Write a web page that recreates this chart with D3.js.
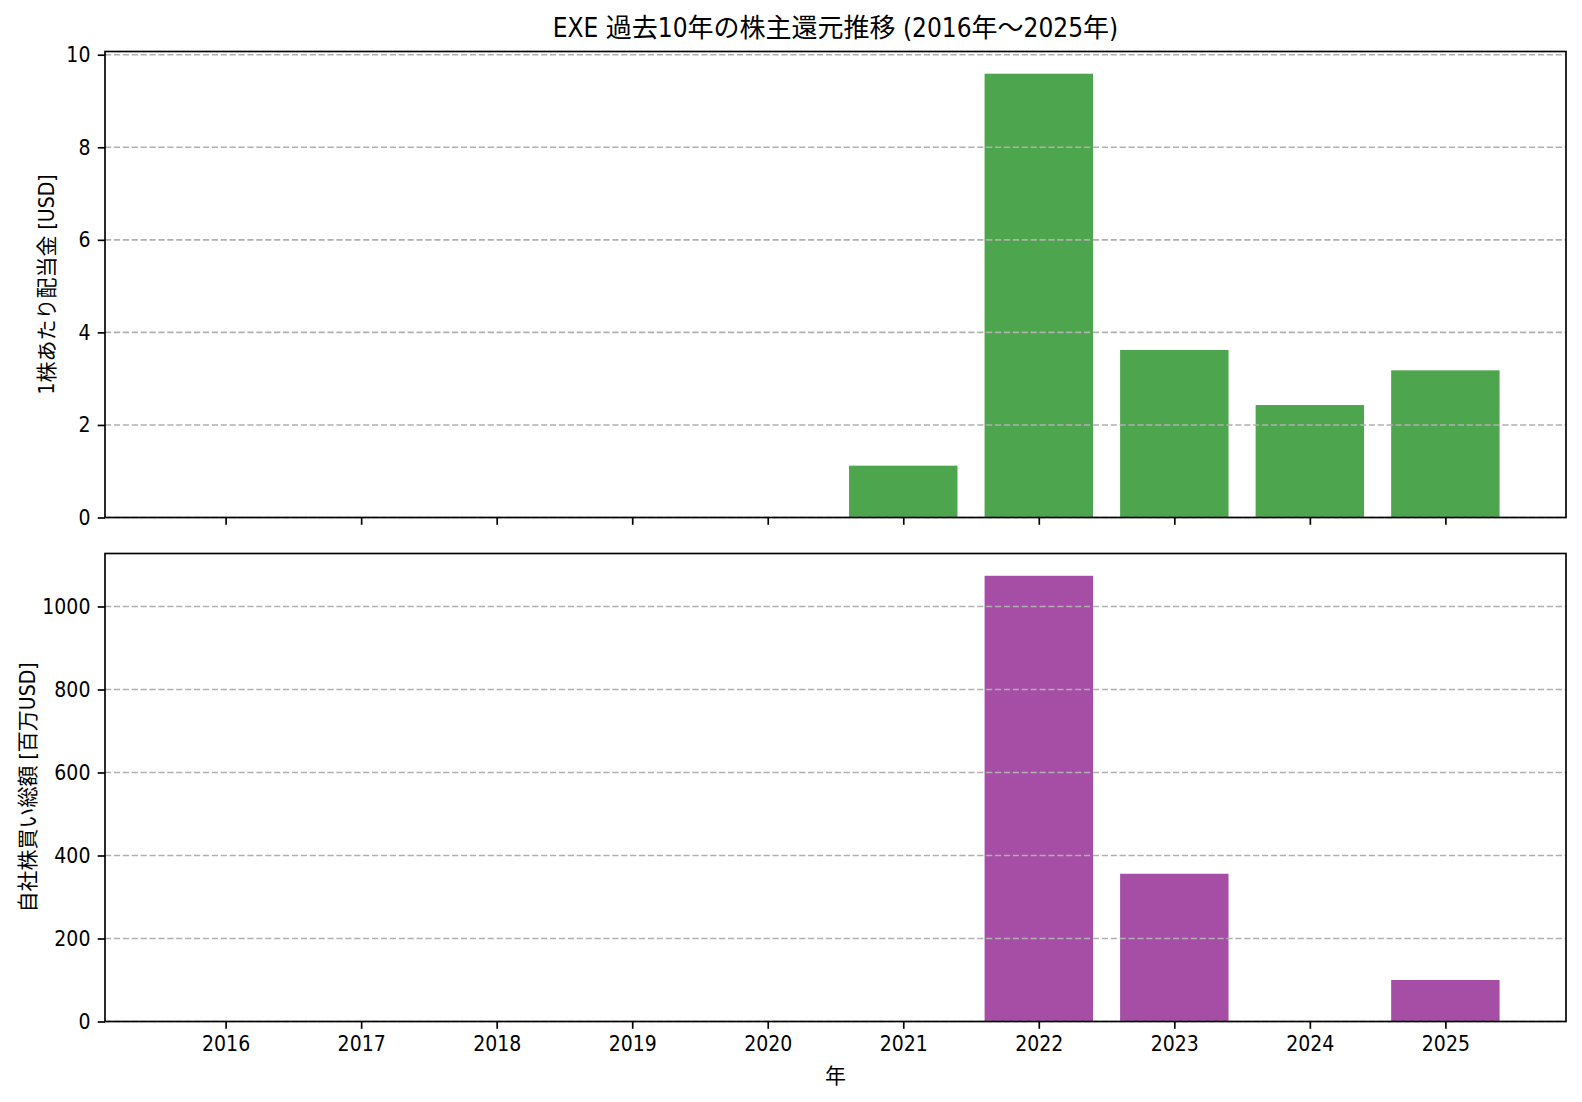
<!DOCTYPE html>
<html>
<head>
<meta charset="utf-8">
<script src="https://cdn.jsdelivr.net/npm/d3@7"></script>
<style>
  body { margin: 0; background: #fff; }
  svg text { font-family: "Liberation Sans Narrow", "DejaVu Sans Condensed", "Noto Sans CJK JP", sans-serif; fill: #000; }
</style>
</head>
<body>
<div id="chart"></div>
<script>
// データ
const years = [2016, 2017, 2018, 2019, 2020, 2021, 2022, 2023, 2024, 2025];
const dividendPerShare = [0, 0, 0, 0, 0, 1.12, 9.59, 3.62, 2.43, 3.18];
const buybackTotal = [0, 0, 0, 0, 0, 0, 1074, 356, 0, 100];
const dividendTicks = [0, 2, 4, 6, 8, 10];
const buybackTicks = [0, 200, 400, 600, 800, 1000];

const W = 1582, H = 1102;
const left = 105, right = 1566;
const panels = [
  { top: 51.5, bottom: 517.5, values: dividendPerShare, ticks: dividendTicks,
    color: '#4da64d', label: '1株あたり配当金 [USD]', labelX: 47, showX: false },
  { top: 553.5, bottom: 1021.5, values: buybackTotal, ticks: buybackTicks,
    color: '#a64da6', label: '自社株買い総額 [百万USD]', labelX: 28, showX: true }
];

const svg = d3.select('#chart').append('svg')
  .attr('width', W).attr('height', H);

// matplotlib 風の x 範囲 (棒幅0.8 + 5%マージン)
const n = years.length, bw = 0.8;
const span = (n - 1) + bw;
const x = d3.scaleLinear()
  .domain([-bw / 2 - 0.05 * span, n - 1 + bw / 2 + 0.05 * span])
  .range([left, right]);

panels.forEach(p => {
  const y = d3.scaleLinear()
    .domain([0, d3.max(p.values) * 1.05])
    .range([p.bottom, p.top]);

  const g = svg.append('g');

  // 棒
  g.selectAll('rect.bar')
    .data(p.values)
    .join('rect')
    .attr('class', 'bar')
    .attr('x', (d, i) => x(i - bw / 2))
    .attr('width', (d, i) => x(i + bw / 2) - x(i - bw / 2))
    .attr('y', d => y(d))
    .attr('height', d => y(0) - y(d))
    .attr('fill', p.color);

  // グリッド (棒の上に描画)
  g.selectAll('line.grid')
    .data(p.ticks)
    .join('line')
    .attr('class', 'grid')
    .attr('x1', left).attr('x2', right)
    .attr('y1', d => y(d)).attr('y2', d => y(d))
    .attr('stroke', '#b0b0b0')
    .attr('stroke-width', 1.6)
    .attr('stroke-dasharray', '6.2 2.7');

  // y 軸
  const ya = g.append('g')
    .attr('transform', `translate(${left},0)`)
    .call(d3.axisLeft(y).tickValues(p.ticks).tickFormat(d3.format('d'))
      .tickSize(7.3).tickPadding(7.3).tickSizeOuter(0));
  ya.select('.domain').remove();
  ya.selectAll('line').attr('stroke', '#000').attr('stroke-width', 1.67);
  ya.selectAll('text').attr('font-size', '21px').attr('fill', '#000');

  // x 軸
  const xa = g.append('g')
    .attr('transform', `translate(0,${p.bottom})`)
    .call(d3.axisBottom(x).tickValues(d3.range(n)).tickSize(7.3).tickPadding(7.3).tickSizeOuter(0)
      .tickFormat(i => p.showX ? years[i] : ''));
  xa.select('.domain').remove();
  xa.selectAll('line').attr('stroke', '#000').attr('stroke-width', 1.67);
  xa.selectAll('text').attr('font-size', '21px').attr('fill', '#000');

  // 枠
  g.append('rect')
    .attr('x', left).attr('y', p.top)
    .attr('width', right - left).attr('height', p.bottom - p.top)
    .attr('fill', 'none').attr('stroke', '#000').attr('stroke-width', 1.67);

  // y ラベル
  g.append('text')
    .attr('transform', `translate(${p.labelX},${(p.top + p.bottom) / 2}) rotate(-90)`)
    .attr('text-anchor', 'middle')
    .attr('dominant-baseline', 'central')
    .attr('font-size', '21px')
    .text(p.label);
});

// タイトル
svg.append('text')
  .attr('x', (left + right) / 2).attr('y', 37)
  .attr('text-anchor', 'middle')
  .attr('font-size', '26px')
  .text('EXE 過去10年の株主還元推移 (2016年～2025年)');

// x ラベル
svg.append('text')
  .attr('x', (left + right) / 2).attr('y', 1083)
  .attr('text-anchor', 'middle')
  .attr('font-size', '21px')
  .text('年');
</script>
</body>
</html>
